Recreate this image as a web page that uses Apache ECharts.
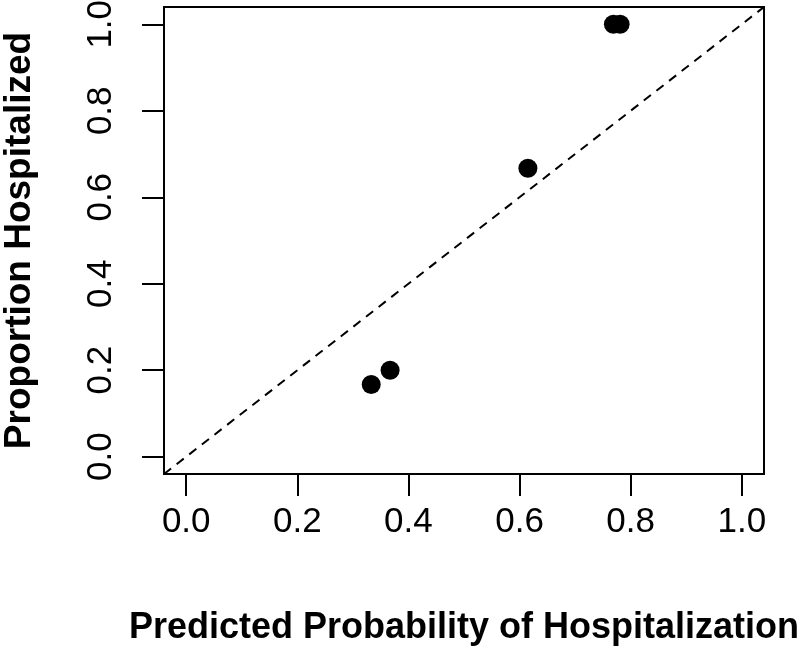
<!DOCTYPE html>
<html>
<head>
<meta charset="utf-8">
<script src="https://cdn.jsdelivr.net/npm/echarts@6/dist/echarts.min.js"></script>
<style>html,body{margin:0;padding:0;background:#fff}#c{width:800px;height:648px}</style>
</head>
<body>
<div id="c"></div>
<script>
const predicted = [0.333, 0.367, 0.615, 0.769, 0.781];
const observed  = [0.167, 0.200, 0.667, 1.000, 1.000];
const tickValues = [0, 0.2, 0.4, 0.6, 0.8, 1.0];
const axisMin = -0.04, axisMax = 1.04;
const refLine = [[axisMin, axisMin], [axisMax, axisMax]];
const xTitle = 'Predicted Probability of Hospitalization';
const yTitle = 'Proportion Hospitalized';

const font = '"Liberation Sans", Arial, sans-serif';
const chart = echarts.init(document.getElementById('c'), null, {renderer: 'canvas'});
const points = predicted.map((x, i) => [x, observed[i]]);
chart.setOption({
  animation: false,
  backgroundColor: '#fff',
  grid: {left: 164, right: 36, top: 7, bottom: 174, containLabel: false, outerBoundsMode: 'none',
    show: true, borderColor: '#000', borderWidth: 2, backgroundColor: 'transparent'},
  xAxis: {
    type: 'value', min: axisMin, max: axisMax,
    splitLine: {show: false},
    axisLine: {show: false, onZero: false},
    axisTick: {show: true, inside: false, customValues: tickValues, length: 22, lineStyle: {color: '#000', width: 2}},
    axisLabel: {customValues: tickValues, margin: 31, color: '#000', fontSize: 35, fontFamily: font,
      formatter: v => v.toFixed(1)},
    name: xTitle, nameLocation: 'middle', nameGap: 136,
    nameTextStyle: {color: '#000', fontSize: 36, fontWeight: 'bold', fontFamily: font}
  },
  yAxis: {
    type: 'value', min: axisMin, max: axisMax,
    splitLine: {show: false},
    axisLine: {show: false, onZero: false},
    axisTick: {show: true, inside: false, customValues: tickValues, length: 22, lineStyle: {color: '#000', width: 2}},
    axisLabel: {customValues: tickValues, margin: 45, rotate: 90, color: '#000', fontSize: 35, fontFamily: font,
      formatter: v => v.toFixed(1)},
    name: yTitle, nameLocation: 'middle', nameGap: 126, nameRotate: 90,
    nameTextStyle: {color: '#000', fontSize: 37, fontWeight: 'bold', fontFamily: font}
  },
  series: [
    {type: 'line', data: refLine, symbol: 'none', silent: true,
      lineStyle: {color: '#000', width: 2, type: [9, 7]}},
    {type: 'scatter', data: points, symbol: 'circle', symbolSize: 19,
      itemStyle: {color: '#000', opacity: 1}}
  ]
});
</script>
</body>
</html>
